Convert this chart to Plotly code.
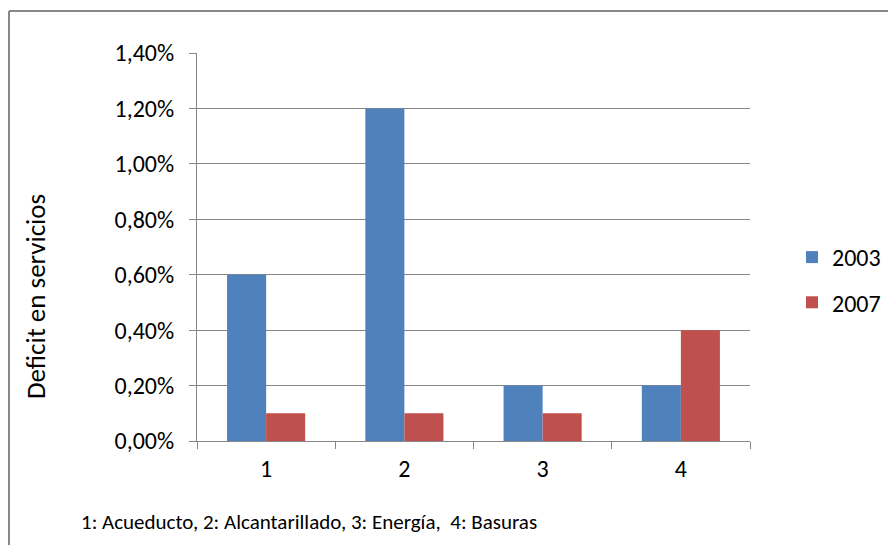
import plotly.graph_objects as go

categories = ["1", "2", "3", "4"]
series_names = ["2003", "2007"]
values_2003 = [0.006, 0.012, 0.002, 0.002]
values_2007 = [0.001, 0.001, 0.001, 0.004]
y_ticks = [0, 0.002, 0.004, 0.006, 0.008, 0.010, 0.012, 0.014]
footnote = "1: Acueducto, 2: Alcantarillado, 3: Energía,  4: Basuras"
y_title = "Deficit en servicios"

FONT = "Carlito, Liberation Sans Narrow, Open Sans, sans-serif"

fig = go.Figure()
fig.add_trace(go.Bar(x=categories, y=values_2003, name=series_names[0], legendgroup="a",
                     marker=dict(color="#4F81BD", line=dict(width=0))))
fig.add_trace(go.Bar(x=categories, y=values_2007, name=series_names[1], legendgroup="b",
                     marker=dict(color="#C0504D", line=dict(width=0))))

L, R, T, B = 197, 138, 53, 104
W, H = 888, 545
pw, ph = W - L - R, H - T - B

fig.update_layout(
    width=W, height=H,
    margin=dict(l=L, r=R, t=T, b=B, pad=0, autoexpand=False),
    paper_bgcolor="white", plot_bgcolor="white",
    separators=",.",
    barmode="group", bargap=0.435, bargroupgap=0,
    font=dict(family=FONT, size=24, color="#000000"),
    showlegend=True,
    legend=dict(x=(792 - L) / pw, y=(441 - 235) / ph, xanchor="left", yanchor="top",
                font=dict(family=FONT, size=24), itemwidth=30, tracegroupgap=11,
                bgcolor="rgba(0,0,0,0)"),
    xaxis=dict(type="category", showgrid=False, showline=True, linecolor="#868686",
               linewidth=1, ticks="outside", ticklen=7, tickcolor="#868686",
               tickson="boundaries", tickfont=dict(family=FONT, size=24),
               ticklabelstandoff=6),
    yaxis=dict(range=[0, 0.014], tickvals=y_ticks, tickformat=".2%",
               showgrid=True, gridcolor="#868686", gridwidth=1,
               showline=True, linecolor="#868686", linewidth=1,
               ticks="outside", ticklen=7, tickcolor="#868686",
               tickfont=dict(family=FONT, size=24), zeroline=False,
               ticklabelstandoff=10),
    annotations=[
        dict(text=footnote, xref="paper", yref="paper",
             x=(79 - L) / pw, y=(441 - 522) / ph, xanchor="left", yanchor="middle",
             showarrow=False, font=dict(family=FONT, size=21)),
        dict(text=y_title, xref="paper", yref="paper", textangle=-90,
             x=(35 - L) / pw, y=(441 - 297) / ph, xanchor="center", yanchor="middle",
             showarrow=False, font=dict(family=FONT, size=27)),
    ],
    shapes=[
        dict(type="line", xref="paper", yref="paper",
             x0=(9 - L) / pw, x1=(9 - L) / pw, y0=(441 - 11) / ph, y1=(441 - 560) / ph,
             line=dict(color="#878787", width=2)),
        dict(type="line", xref="paper", yref="paper",
             x0=(9 - L) / pw, x1=(900 - L) / pw, y0=(441 - 11) / ph, y1=(441 - 11) / ph,
             line=dict(color="#878787", width=2)),
    ],
)

fig.write_html("out.html")
